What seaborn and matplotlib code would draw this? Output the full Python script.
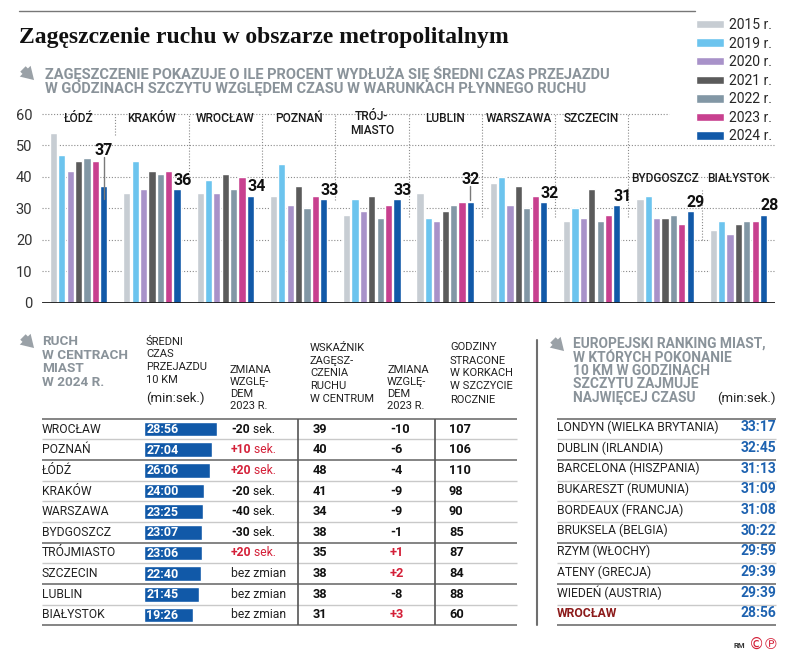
import pandas as pd
import matplotlib
matplotlib.use('Agg')
import matplotlib.pyplot as plt
import matplotlib.patches as mpatches
from matplotlib.lines import Line2D
import seaborn as sns

sns.set_theme(style='white')
plt.rcParams['font.family'] = ['Roboto', 'DejaVu Sans']

# --- data: congestion (%) per city and year
cities = ['ŁÓDŹ', 'KRAKÓW', 'WROCŁAW', 'POZNAŃ', 'TRÓJ-\nMIASTO', 'LUBLIN',
          'WARSZAWA', 'SZCZECIN', 'BYDGOSZCZ', 'BIAŁYSTOK']
years = ['2015 r.', '2019 r.', '2020 r.', '2021 r.', '2022 r.', '2023 r.', '2024 r.']
y2015 = [54, 35, 35, 34, 28, 35, 38, 26, 33, 23]
y2019 = [47, 45, 39, 44, 33, 27, 40, 30, 34, 26]
y2020 = [42, 36, 35, 31, 29, 26, 31, 27, 27, 22]
y2021 = [45, 42, 41, 37, 34, 29, 37, 36, 27, 25]
y2022 = [46, 41, 36, 30, 27, 31, 30, 26, 28, 26]
y2023 = [45, 42, 40, 34, 31, 32, 34, 28, 25, 26]
y2024 = [37, 36, 34, 33, 33, 32, 32, 31, 29, 28]
colors = ['#c7cdd3', '#6cc4ee', '#a892c9', '#5b5b5b', '#8297a5', '#c8408f', '#1159a8']

# --- data: city centres 2024
t_city = ['WROCŁAW', 'POZNAŃ', 'ŁÓDŹ', 'KRAKÓW', 'WARSZAWA', 'BYDGOSZCZ',
          'TRÓJMIASTO', 'SZCZECIN', 'LUBLIN', 'BIAŁYSTOK']
t_time = ['28:56', '27:04', '26:06', '24:00', '23:25', '23:07', '23:06', '22:40', '21:45', '19:26']
t_time_chg = [-20, 10, 20, -20, -40, -30, 20, 0, 0, 0]
t_index = [39, 40, 48, 41, 34, 38, 35, 38, 38, 31]
t_index_chg = [-10, -6, -4, -9, -9, -1, 1, 2, -8, 3]
t_hours = [107, 106, 110, 98, 90, 85, 87, 84, 88, 60]

# --- data: european ranking
eu_city = ['LONDYN (WIELKA BRYTANIA)', 'DUBLIN (IRLANDIA)', 'BARCELONA (HISZPANIA)',
           'BUKARESZT (RUMUNIA)', 'BORDEAUX (FRANCJA)', 'BRUKSELA (BELGIA)',
           'RZYM (WŁOCHY)', 'ATENY (GRECJA)', 'WIEDEŃ (AUSTRIA)', 'WROCŁAW']
eu_time = ['33:17', '32:45', '31:13', '31:09', '31:08', '30:22', '29:59', '29:39', '29:39', '28:56']

W, H = 788, 660
GRAY = '#8a939a'
RED = '#d42038'
BLUE = '#1159a8'
DARK = '#222222'


def P(x, y):
    return x / W, 1 - y / H


def arrow_icon(fig, x, y):
    fig.add_artist(mpatches.FancyArrowPatch(P(x, y), P(x + 15, y + 15), transform=fig.transFigure,
                                            arrowstyle='simple,head_length=0.9,head_width=1.1,tail_width=0.55',
                                            mutation_scale=10, color='#9aa1a7', lw=0))


def text_lines(fig, x, ys, lines, **kw):
    for yy, s in zip(ys, lines):
        fig.text(*P(x, yy), s, va='center', **kw)


fig = plt.figure(figsize=(W / 100, H / 100), dpi=100)

# title block
fig.add_artist(Line2D([19 / W, 695 / W], [1 - 11 / H] * 2, color='#777777', lw=1))
fig.text(*P(19, 37), 'Zagęszczenie ruchu w obszarze metropolitalnym', va='center',
         fontsize=17, fontweight='bold', family=['Liberation Serif', 'DejaVu Serif'], color='#111111')
arrow_icon(fig, 21, 67)
text_lines(fig, 45, [73.5, 88.5], ['ZAGĘSZCZENIE POKAZUJE O ILE PROCENT WYDŁUŻA SIĘ ŚREDNI CZAS PRZEJAZDU',
                                   'W GODZINACH SZCZYTU WZGLĘDEM CZASU W WARUNKACH PŁYNNEGO RUCHU'],
           fontsize=10.5, fontweight='bold', color=GRAY)

# --- main bar chart
df = pd.DataFrame({'city': cities, years[0]: y2015, years[1]: y2019, years[2]: y2020,
                   years[3]: y2021, years[4]: y2022, years[5]: y2023, years[6]: y2024})
long = df.melt(id_vars='city', var_name='year', value_name='value')

ax = fig.add_axes([42 / W, 1 - 302.7 / H, 733 / W, 188.7 / H])
sns.barplot(data=long, x='city', y='value', hue='year', palette=colors, saturation=1,
            width=0.8, gap=0.14, ax=ax, zorder=3)
ax.set_xlim(-0.5, 9.5)
ax.set_ylim(0, 60)
ax.set_xticks([])
ax.set_xlabel('')
ax.set_ylabel('')
ax.set_yticks(range(0, 61, 10))
ax.tick_params(axis='y', length=0, pad=7, labelsize=10.5, labelcolor='#333333')
sns.despine(ax=ax, left=True, bottom=True)
dots = (0, (1, 1.6))
ax.hlines(range(10, 51, 10), -0.5, 9.5, color='#8a8a8a', lw=0.8, linestyles=dots, zorder=1)
ax.hlines(60, -0.5, 8.06, color='#8a8a8a', lw=0.8, linestyles=dots, zorder=1, clip_on=False)
ax.axhline(0, color='#1a1a1a', lw=2, zorder=4)

sep_top = [60, 60, 60, 60, 60, 60, 60, 60, 35.8]
sep_bot = [53.3, 38, 38, 32.7, 27.4, 27.4, 27.4, 27.4, 19.9]
for i, (t, b) in enumerate(zip(sep_top, sep_bot)):
    ax.vlines(i + 0.5, b, t, color='#8a8a8a', lw=0.8, linestyles=dots, zorder=1)

for i, c in enumerate(cities):
    low = c in ('BYDGOSZCZ', 'BIAŁYSTOK')
    yy = 39.4 if low else (57.0 if '\n' in c else 58.7)
    ax.text(i, yy, c, ha='center', va='center', fontsize=8.6, fontweight='medium',
            color='#1a1a1a', linespacing=1.05, zorder=5)

bar_off = 3 * 0.8 / 7
lifted = {0: 11.5, 5: 7.3}
for i, v in enumerate(y2024):
    xb = i + bar_off
    if i in lifted:
        ly = v + lifted[i]
        ax.plot([xb, xb], [ly - 2.3, v - 4 if i == 0 else v + 0.6], color='#7a7a7a', lw=1, zorder=6)
        ax.text(xb, ly, str(v), ha='center', va='center', fontsize=11.5, fontweight='bold', color='#111111')
    else:
        ax.text(xb + 0.08, v + 2.8, str(v), ha='center', va='center', fontsize=11.5,
                fontweight='bold', color='#111111')

handles, labels = ax.get_legend_handles_labels()
ax.legend_.remove()
fig.legend(handles, labels, loc='upper left', bbox_to_anchor=P(696, 18), frameon=False,
           fontsize=10, handlelength=2.0, handleheight=0.55, labelspacing=0.33,
           handletextpad=0.35, borderpad=0, borderaxespad=0)

# --- left table header
arrow_icon(fig, 21, 335)
text_lines(fig, 42, [341.5, 355.5, 369, 382.5], ['RUCH', 'W CENTRACH', 'MIAST', 'W 2024 R.'],
           fontsize=9.7, fontweight='bold', color=GRAY)
hk = dict(fontsize=8, color=DARK)
text_lines(fig, 146, [342, 354, 366.5, 380], ['ŚREDNI', 'CZAS', 'PRZEJAZDU', '10 KM'], **hk)
fig.text(*P(146, 398), '(min:sek.)', va='center', fontsize=9.5, color=DARK)
for x in (230, 387):
    text_lines(fig, x, [370, 382, 394, 406], ['ZMIANA', 'WZGLĘ-', 'DEM', '2023 R.'], **hk)
text_lines(fig, 310, [348, 361, 373, 386, 399], ['WSKAŹNIK', 'ZAGĘSZ-', 'CZENIA', 'RUCHU', 'W CENTRUM'], **hk)
text_lines(fig, 450, [347, 361, 373, 386, 400], ['GODZINY', 'STRACONE', 'W KORKACH', 'W SZCZYCIE', 'ROCZNIE'], **hk)

# table grid axes (x in pixels, y in rows)
tab = fig.add_axes([0, 1 - 625.3 / H, 1, 206.6 / H])
tab.set_xlim(0, W)
tab.set_ylim(9.5, -0.5)
tab.axis('off')
for k in range(-1, 10):
    dark = k in (-1, 1, 5, 7, 9)
    col = '#6f6f6f' if dark else '#c9c9c9'
    tab.hlines(k + 0.5, 42, 517, color=col, lw=1.2 if dark else 1, clip_on=False)
    tab.hlines(k + 0.5, 557, 776, color=col, lw=1.2 if dark else 1, clip_on=False)
tab.vlines([298, 435], -0.5, 9.5, color='#555555', lw=1.2)
fig.add_artist(Line2D([537 / W] * 2, [1 - 340 / H, 1 - 625 / H], color='#6f6f6f', lw=1.5))

# time bars
mins = [int(t.split(':')[0]) + int(t.split(':')[1]) / 60 for t in t_time]
axb = fig.add_axes([144 / W, 1 - 625.3 / H, 75.6 / W, 206.6 / H])
sns.barplot(x=mins, y=t_city, orient='h', color=BLUE, saturation=1, width=0.72, ax=axb)
axb.set_xlim(0, 30)
axb.set_ylim(9.5, -0.5)
axb.axis('off')
for i, t in enumerate(t_time):
    axb.text(0.9, i + 0.03, t, ha='left', va='center', fontsize=9, fontweight='bold', color='white')

for i in range(len(t_city)):
    tab.text(42, i, t_city[i], va='center', fontsize=8.7, color=DARK)
    ch = t_time_chg[i]
    if ch == 0:
        tab.text(231, i, 'bez zmian', va='center', fontsize=8.7, color=DARK)
    else:
        col = RED if ch > 0 else '#111111'
        num = tab.text(231, i, f'{ch:+d}', va='center', fontsize=8.7, fontweight='bold', color=col)
        tab.annotate(' sek.', xy=(1, 0), xycoords=num, va='bottom', ha='left', fontsize=8.7, color=col)
    tab.text(313, i, str(t_index[i]), va='center', fontsize=9.2, fontweight='bold', color='#111111')
    ic = t_index_chg[i]
    tab.text(390, i, f'{ic:+d}', va='center', fontsize=9.2, fontweight='bold',
             color=RED if ic > 0 else '#111111')
    tab.text(449, i, str(t_hours[i]), va='center', fontsize=9.2, fontweight='bold', color='#111111')

# --- right table
arrow_icon(fig, 551, 338)
text_lines(fig, 573, [344, 357.5, 371, 384.5, 398],
           ['EUROPEJSKI RANKING MIAST,', 'W KTÓRYCH POKONANIE', '10 KM W GODZINACH',
            'SZCZYTU ZAJMUJE', 'NAJWIĘCEJ CZASU'], fontsize=9.9, fontweight='bold', color=GRAY)
fig.text(*P(776, 398), '(min:sek.)', ha='right', va='center', fontsize=9.5, color=DARK)
for i, (c, t) in enumerate(zip(eu_city, eu_time)):
    home = c == 'WROCŁAW'
    tab.text(557, i - 0.08, c, va='center', fontsize=8.7, color='#8c1a1a' if home else DARK,
             fontweight='bold' if home else 'normal')
    tab.text(776, i - 0.08, t, ha='right', va='center', fontsize=10, fontweight='bold', color='#1d62b0')

fig.text(*P(745, 645), 'RM', ha='right', va='center', fontsize=5.5, fontweight='bold', color='#333333')
fig.text(*P(749, 644), '©℗', ha='left', va='center', fontsize=11, color=RED, family=['DejaVu Sans'])

fig.savefig('out.png', dpi=100)
